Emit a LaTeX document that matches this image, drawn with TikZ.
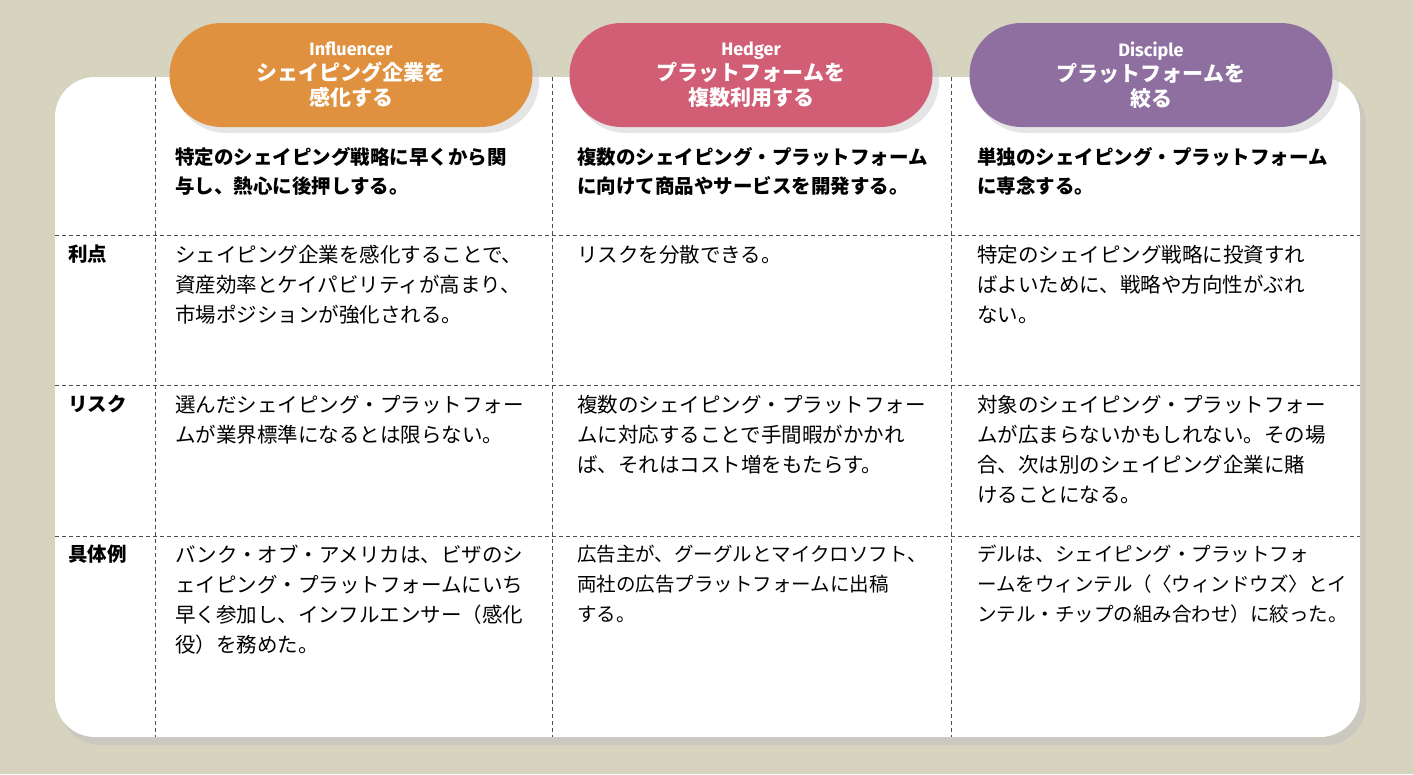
\documentclass[tikz,border=0pt]{standalone}
\usepackage{fontspec}
\setmainfont{Noto Sans CJK JP}
\newfontfamily\latf{Fira Sans}
\begin{document}
\begin{tikzpicture}[x=1pt,y=-1pt,
  pill/.style={rounded corners=52pt,minimum width=363pt,minimum height=104pt,draw=none,inner sep=0pt},
  ptxt/.style={text=white,font=\fontsize{21}{25}\bfseries,align=center},
  hd/.style={anchor=north west,font=\fontsize{19.5}{29}\bfseries,align=left,inner sep=0pt},
  bd/.style={anchor=north west,font=\fontsize{20.5}{30}\selectfont,align=left,inner sep=0pt},
  rl/.style={anchor=north west,font=\fontsize{19.5}{30}\bfseries,inner sep=0pt},
  dl/.style={dash pattern=on 4pt off 3pt,line width=0.7pt,draw=black!70}]
\definecolor{bgc}{HTML}{D6D3BF}
\definecolor{cor}{HTML}{E0913F}
\definecolor{cpk}{HTML}{D15E74}
\definecolor{cpu}{HTML}{8E6FA0}
\fill[bgc] (0,0) rectangle (1414,774);
\useasboundingbox (0,0) rectangle (1414,774);
\fill[black!25,opacity=0.5,rounded corners=40pt] (60,84) rectangle (1366,745);
\fill[white,rounded corners=40pt] (55,77) rectangle (1360,737);
% pills
\fill[black!20,opacity=0.5,rounded corners=52pt] (174,29) rectangle (539,133);
\fill[black!20,opacity=0.5,rounded corners=52pt] (574,29) rectangle (939,133);
\fill[black!20,opacity=0.5,rounded corners=52pt] (974,29) rectangle (1339,133);
\node[pill,fill=cor] (p1) at (351,75) {};
\node[pill,fill=cpk] (p2) at (751,75) {};
\node[pill,fill=cpu] (p3) at (1151,75) {};
\node[ptxt] (t1) at (351,75) {{\latf\bfseries\fontsize{18}{22}\selectfont Influencer}\\シェイピング企業を\\感化する};
\node[ptxt] (t2) at (751,75) {{\latf\bfseries\fontsize{18}{22}\selectfont Hedger}\\プラットフォームを\\複数利用する};
\node[ptxt] (t3) at (1151,75) {{\latf\bfseries\fontsize{18}{22}\selectfont Disciple}\\プラットフォームを\\絞る};
% grid
\foreach \x/\n in {155/a,552/b,951/c}{\coordinate (v\n1) at (\x,77); \coordinate (v\n2) at (\x,737); \draw[dl] (v\n1)--(v\n2);}
\foreach \y/\n in {235/a,385/b,536/c}{\coordinate (h\n1) at (55,\y); \coordinate (h\n2) at (1360,\y); \draw[dl] (h\n1)--(h\n2);}
% header text
\node[hd] (h1) at (175,147) {特定のシェイピング戦略に早くから関\\与し、熱心に後押しする。};
\node[hd] (h2) at (577,147) {複数のシェイピング・プラットフォーム\\に向けて商品やサービスを開発する。};
\node[hd] (h3) at (977,147) {単独のシェイピング・プラットフォーム\\に専念する。};
% row labels
\node[rl] (r1) at (68,245) {利点};
\node[rl] (r2) at (68,395) {リスク};
\node[rl] (r3) at (68,545) {具体例};
% body
\node[bd] (b11) at (175,245) {シェイピング企業を感化することで、\\資産効率とケイパビリティが高まり、\\市場ポジションが強化される。};
\node[bd] (b12) at (577,245) {リスクを分散できる。};
\node[bd] (b13) at (977,245) {特定のシェイピング戦略に投資すれ\\ばよいために、戦略や方向性がぶれ\\ない。};
\node[bd] (b21) at (175,395) {選んだシェイピング・プラットフォー\\ムが業界標準になるとは限らない。};
\node[bd] (b22) at (577,395) {複数のシェイピング・プラットフォー\\ムに対応することで手間暇がかかれ\\ば、それはコスト増をもたらす。};
\node[bd] (b23) at (977,395) {対象のシェイピング・プラットフォー\\ムが広まらないかもしれない。その場\\合、次は別のシェイピング企業に賭\\けることになる。};
\node[bd] (b31) at (175,545) {バンク・オブ・アメリカは、ビザのシ\\ェイピング・プラットフォームにいち\\早く参加し、インフルエンサー（感化\\役）を務めた。};
\node[bd,font=\fontsize{19.5}{30}\selectfont] (b32) at (577,545) {広告主が、グーグルとマイクロソフト、\\両社の広告プラットフォームに出稿\\する。};
\node[bd,font=\fontsize{19.5}{30}\selectfont] (b33) at (977,545) {デルは、シェイピング・プラットフォ\\ームをウィンテル（〈ウィンドウズ〉とイ\\ンテル・チップの組み合わせ）に絞った。};
\end{tikzpicture}
\end{document}
